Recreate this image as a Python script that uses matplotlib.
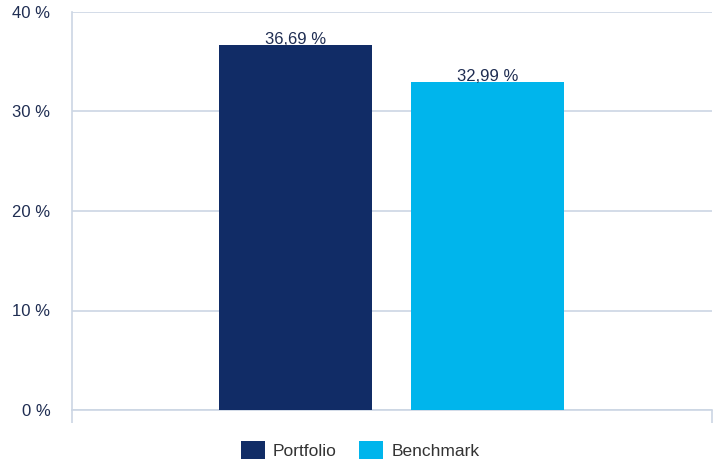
import matplotlib.pyplot as plt
import matplotlib as mpl
from matplotlib.patches import Patch

# data
series = ['Portfolio', 'Benchmark']
values = [36.69, 32.99]
labels = ['36,69 %', '32,99 %']
colors = ['#112c66', '#00b5ec']
yticks = [0, 10, 20, 30, 40]

mpl.rcParams['font.family'] = ['Liberation Sans', 'DejaVu Sans']

grid_col = '#ccd6e4'
text_col = '#1f2d52'

fig = plt.figure(figsize=(7.19, 4.61), dpi=100)
ax = fig.add_axes([72/719, 51/461, 640/719, 398/461])

offsets = [-0.151, 0.149]
width = 0.239
for off, v, lab, c in zip(offsets, values, labels, colors):
    ax.bar(off, v, width=width, color=c, zorder=3)
    ax.text(off, v - 0.25, lab, ha='center', va='bottom', fontsize=12, color=text_col, zorder=4)

ax.set_xlim(-0.5, 0.5)
ax.set_ylim(0, 40)
ax.set_yticks(yticks)
ax.set_yticklabels([f'{t} %' for t in yticks], fontsize=12, color=text_col)
ax.tick_params(axis='y', length=0, pad=15.5)
ax.yaxis.grid(True, color=grid_col, linewidth=1.2, zorder=0)

# category boundary ticks at bottom
ax.set_xticks([-0.5, 0.5])
ax.set_xticklabels(['', ''])
ax.tick_params(axis='x', length=9.5, width=1.2, color=grid_col, direction='out')

for s in ['top', 'right']:
    ax.spines[s].set_visible(False)
ax.spines['left'].set_color(grid_col)
ax.spines['left'].set_linewidth(1.2)
ax.spines['left'].set_bounds(0, 40)
ax.spines['bottom'].set_color(grid_col)
ax.spines['bottom'].set_linewidth(1.2)

handles = [Patch(facecolor=c, label=s) for s, c in zip(series, colors)]
leg = fig.legend(handles=handles, loc='center', bbox_to_anchor=(360/719, 1 - 450/461), ncol=2,
                 frameon=False, fontsize=12.5, handlelength=1.4, handleheight=1.2,
                 handletextpad=0.45, columnspacing=1.3)
for t in leg.get_texts():
    t.set_color('#333333')

fig.savefig('out.png', dpi=100)
